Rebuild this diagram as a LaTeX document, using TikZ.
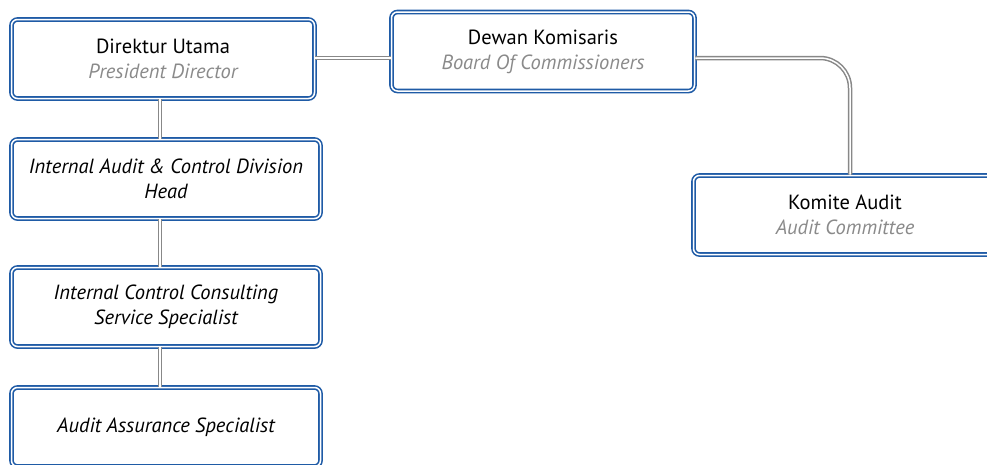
\documentclass[tikz,border=0pt]{standalone}
\usepackage{fontspec}
\setmainfont{PT Sans}
\definecolor{boxblue}{HTML}{1F5BA6}
\definecolor{conngray}{HTML}{888888}
\definecolor{subgray}{HTML}{8A8A8A}
\begin{document}
\begin{tikzpicture}[x=1pt,y=-1pt,
  orgbox/.style={draw=boxblue, double=white, line width=1.6pt, double distance=1.5pt,
    rounded corners=6pt, fill=white, minimum height=79pt, align=center,
    font=\fontsize{20.5}{25}\selectfont, inner sep=0pt},
  conn/.style={draw=conngray, double=white, line width=1.5pt, double distance=1.5pt}]
\useasboundingbox (0,0) rectangle (987,464);
\begin{scope}
\clip (0,0) rectangle (987,464);
\node[orgbox, minimum width=303pt] (DU) at (163,59) {Direktur Utama\\{\color{subgray}\itshape President Director}};
\node[orgbox, minimum width=303pt] (DK) at (543,51.5) {Dewan Komisaris\\{\color{subgray}\itshape Board Of Commissioners}};
\node[orgbox, minimum width=309pt] (IA) at (166,179) {\itshape Internal Audit \& Control Division\\\itshape Head};
\node[orgbox, minimum width=309pt] (IC) at (166,307) {\itshape Internal Control Consulting\\\itshape Service Specialist};
\node[orgbox, minimum width=309pt] (AA) at (166,427) {\itshape Audit Assurance Specialist};
\node[orgbox, minimum width=303pt] (KA) at (845,215) {Komite Audit\\{\color{subgray}\itshape Audit Committee}};
\draw[conn] ([xshift=-3pt]DU.south) -- ([xshift=-3pt]DU.south |- IA.north);
\draw[conn] ([xshift=-6pt]IA.south) -- ([xshift=-6pt]IA.south |- IC.north);
\draw[conn] ([xshift=-6pt]IC.south) -- ([xshift=-6pt]IC.south |- AA.north);
\draw[conn] ([yshift=1pt]DU.east) -- ([yshift=1pt]DU.east -| DK.west);
\draw[conn, rounded corners=30pt] ([yshift=1pt]DU.east -| DK.east) -| ([xshift=5pt]KA.north);
\end{scope}
\end{tikzpicture}
\end{document}
